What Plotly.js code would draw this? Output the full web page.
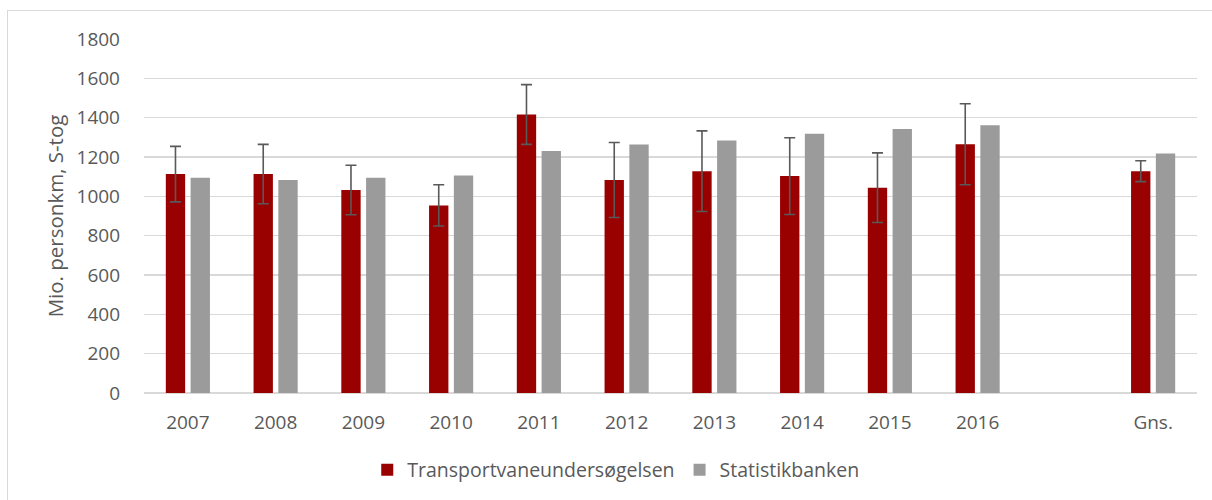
<!DOCTYPE html>
<html>
<head>
<meta charset="utf-8">
<script src="https://cdn.plot.ly/plotly-3.0.1.min.js"></script>
<style>
  html, body { margin: 0; padding: 0; background: #ffffff; overflow: hidden; }
  #wrap { position: relative; width: 1212px; height: 500px; overflow: hidden; }
  #frame { position: absolute; left: 7px; top: 10px; width: 1230px; height: 520px; border: 1px solid #d9d9d9; box-sizing: border-box; }
  #chart { position: absolute; left: 0; top: 0; width: 1212px; height: 500px; }
</style>
</head>
<body>
<div id="wrap">
  <div id="frame"></div>
  <div id="chart"></div>
</div>
<script>
const categories = ['2007', '2008', '2009', '2010', '2011', '2012', '2013', '2014', '2015', '2016', ' ', 'Gns.'];
const tvuValues = [1113, 1113, 1032, 954, 1416, 1083, 1128, 1103, 1044, 1265, null, 1128];
const tvuError = [141, 151, 126, 105, 152, 191, 205, 195, 177, 206, null, 53];
const statValues = [1094, 1083, 1094, 1106, 1230, 1264, 1284, 1318, 1343, 1362, null, 1218];
const yTicks = [0, 200, 400, 600, 800, 1000, 1200, 1400, 1600, 1800];

const font = 'Open Sans, Noto Sans, sans-serif';
const textColor = '#595959';

const traces = [
  {
    type: 'bar',
    name: 'Transportvaneundersøgelsen',
    x: categories,
    y: tvuValues,
    marker: { color: '#990000' },
    error_y: { type: 'data', array: tvuError, visible: true, color: '#595959', thickness: 1.6, width: 5.5 },
    hoverinfo: 'none'
  },
  {
    type: 'bar',
    name: 'Statistikbanken',
    x: categories,
    y: statValues,
    marker: { color: '#9b9b9b' },
    hoverinfo: 'none'
  }
];

const layout = {
  width: 1212,
  height: 500,
  margin: { l: 144, r: 15, t: 39, b: 107, autoexpand: false },
  paper_bgcolor: 'rgba(0,0,0,0)',
  plot_bgcolor: 'rgba(0,0,0,0)',
  barmode: 'group',
  bargap: 0.435,
  bargroupgap: 0.22,
  font: { family: font, size: 19, color: textColor },
  xaxis: {
    type: 'category',
    categoryorder: 'array',
    categoryarray: categories,
    tickfont: { family: font, size: 19, color: textColor },
    ticks: '',
    showgrid: false,
    showline: false,
    zeroline: false,
    automargin: false,
    ticklabelstandoff: 16
  },
  yaxis: {
    range: [0, 1800],
    tickvals: yTicks,
    ticktext: yTicks.map(String),
    tickfont: { family: font, size: 19, color: textColor },
    ticks: '',
    showgrid: true,
    gridcolor: '#d9d9d9',
    gridwidth: 1.5,
    zeroline: true,
    zerolinecolor: '#d9d9d9',
    zerolinewidth: 1.5,
    showline: false,
    automargin: false,
    ticklabelstandoff: 23,
    title: { text: 'Mio. personkm, S-tog', font: { family: font, size: 20.5, color: textColor }, standoff: 7 }
  },
  showlegend: true,
  legend: {
    orientation: 'h',
    xref: 'paper',
    x: 0.448,
    xanchor: 'center',
    yref: 'container',
    y: 0.06,
    yanchor: 'middle',
    font: { family: font, size: 19.5, color: textColor },
    bgcolor: 'rgba(0,0,0,0)',
    itemwidth: 30
  }
};

Plotly.newPlot('chart', traces, layout, { displayModeBar: false, staticPlot: true });
</script>
</body>
</html>
